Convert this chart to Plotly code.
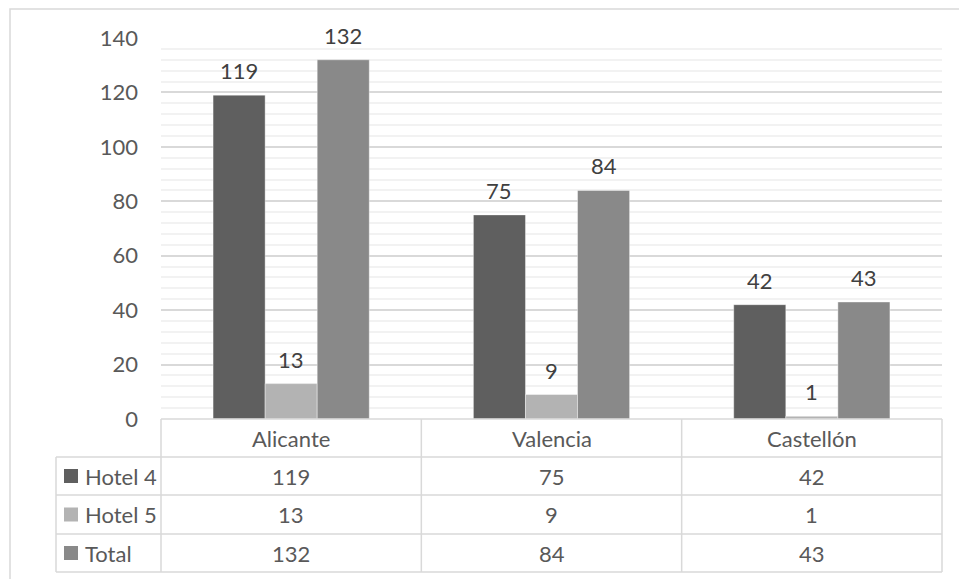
import plotly.graph_objects as go

# Hotels per province (count of 4-star, 5-star and total)
provinces = ["Alicante", "Valencia", "Castellón"]
series_names = ["Hotel 4", "Hotel 5", "Total"]
hotel4 = [119, 75, 42]
hotel5 = [13, 9, 1]
total = [132, 84, 43]
y_ticks = [0, 20, 40, 60, 80, 100, 120, 140]

colors = ["#5f5f5f", "#b3b3b3", "#898989"]
series_values = [hotel4, hotel5, total]

W, H = 959, 579
ML, MR, MT, MB = 161, 17, 38, 160
PW = W - ML - MR
PH = H - MT - MB

FONT = "Lato"
FS = 22
TXT = "#595959"
GRID = "#d9d9d9"
BARGAP = 0.4


def px_x(px):
    return (px - ML) / PW


def px_y(py):
    return (H - MB - py) / PH


def cat_x(xd):
    # data x (category index) -> paper x, for range [-0.5, n-0.5]
    return (xd + 0.5) / len(provinces)


fig = go.Figure()
x_idx = list(range(len(provinces)))
for name, vals, col in zip(series_names, series_values, colors):
    fig.add_trace(go.Bar(
        x=x_idx, y=vals, name=name,
        marker=dict(color=col, line=dict(color="rgba(255,255,255,0.5)", width=0.8)),
        showlegend=False, hoverinfo="y",
    ))

shapes = []
annotations = []
line = dict(color=GRID, width=1.5)

# value labels above each bar, placed from the bar's own value
n_series = len(series_names)
bar_w = (1 - BARGAP) / n_series
for k, vals in enumerate(series_values):
    off = (k - (n_series - 1) / 2) * bar_w
    for i, v in enumerate(vals):
        annotations.append(dict(x=i + off, xref="x", y=v, yref="y", text=str(v),
                                showarrow=False, xanchor="center", yanchor="bottom",
                                yshift=9, font=dict(family=FONT, size=FS, color="#404040")))

# table rows (pixel rows below the plot area)
row_top = [419, 457, 495, 534, 572]
legend_left = 56

# header row top edge (the baseline)
shapes.append(dict(type="line", xref="paper", yref="paper",
                   x0=0, x1=1, y0=px_y(row_top[0]), y1=px_y(row_top[0]), line=line))
for ry in row_top[1:]:
    shapes.append(dict(type="line", xref="paper", yref="paper",
                       x0=px_x(legend_left), x1=1, y0=px_y(ry), y1=px_y(ry), line=line))
# vertical column boundaries
for b in [i - 0.5 for i in range(len(provinces) + 1)]:
    shapes.append(dict(type="line", xref="paper", yref="paper",
                       x0=cat_x(b), x1=cat_x(b), y0=px_y(row_top[0]), y1=px_y(row_top[-1]),
                       line=line))
shapes.append(dict(type="line", xref="paper", yref="paper",
                   x0=px_x(legend_left), x1=px_x(legend_left),
                   y0=px_y(row_top[1]), y1=px_y(row_top[-1]), line=line))

# outer chart frame
shapes.append(dict(type="rect", xref="paper", yref="paper",
                   x0=px_x(10), x1=px_x(963), y0=px_y(583), y1=px_y(9),
                   line=dict(color=GRID, width=1.5), fillcolor="rgba(0,0,0,0)", layer="below"))

# header: province names
hdr_mid = (row_top[0] + row_top[1]) / 2
for i, p in enumerate(provinces):
    annotations.append(dict(x=i, xref="x", y=px_y(hdr_mid), yref="paper",
                            text=p, showarrow=False, xanchor="center", yanchor="middle",
                            font=dict(family=FONT, size=FS, color=TXT)))

# data rows with legend keys
for r, (name, vals, col) in enumerate(zip(series_names, series_values, colors)):
    mid = (row_top[r + 1] + row_top[r + 2]) / 2
    shapes.append(dict(type="rect", xref="paper", yref="paper",
                       x0=px_x(64), x1=px_x(78), y0=px_y(mid + 7), y1=px_y(mid - 7),
                       fillcolor=col, line=dict(width=0)))
    annotations.append(dict(x=px_x(83), xref="paper", y=px_y(mid), yref="paper",
                            text=name, showarrow=False, xanchor="left", yanchor="middle",
                            font=dict(family=FONT, size=FS, color=TXT)))
    for i, v in enumerate(vals):
        annotations.append(dict(x=i, xref="x", y=px_y(mid), yref="paper",
                                text=str(v), showarrow=False, xanchor="center",
                                yanchor="middle",
                                font=dict(family=FONT, size=FS, color=TXT)))

fig.update_layout(
    width=W, height=H,
    margin=dict(l=ML, r=MR, t=MT, b=MB, pad=0),
    paper_bgcolor="white", plot_bgcolor="white",
    barmode="group", bargap=BARGAP, bargroupgap=0,
    font=dict(family=FONT, size=FS, color=TXT),
    shapes=shapes, annotations=annotations,
    xaxis=dict(range=[-0.5, len(provinces) - 0.5], showticklabels=False,
               showgrid=False, zeroline=False, showline=False, fixedrange=True),
    yaxis=dict(range=[0, 140], tickvals=y_ticks, showgrid=True, gridcolor=GRID,
               gridwidth=1.5, zeroline=False, showline=False,
               ticklabelstandoff=22,
               tickfont=dict(family=FONT, size=FS, color=TXT),
               minor=dict(dtick=4, showgrid=True, gridcolor="#f2f2f2", gridwidth=1.5)),
)

fig.write_html("out.html")
